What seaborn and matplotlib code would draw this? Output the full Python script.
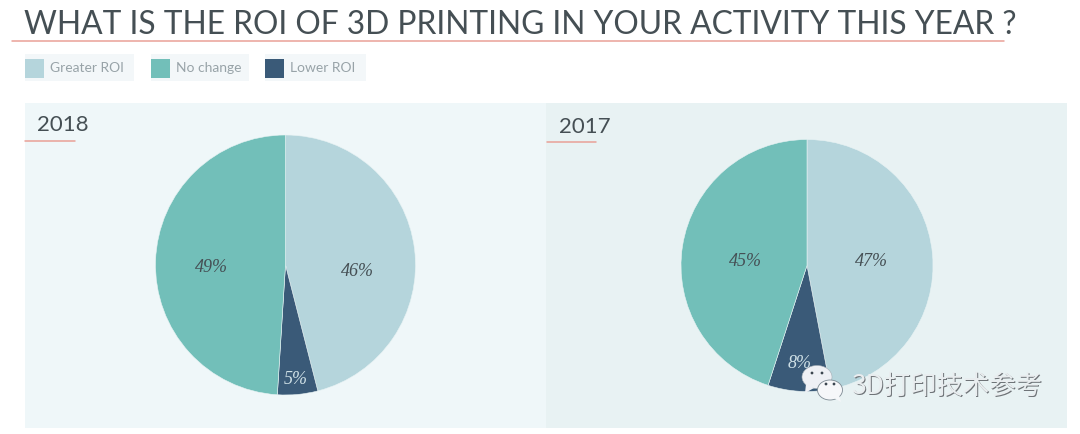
#!/usr/bin/env python3
"""ROI of 3D printing, 2018 vs 2017 pies."""

from __future__ import annotations

import matplotlib
matplotlib.use("Agg")
import matplotlib.pyplot as plt
from matplotlib.patches import Ellipse, Polygon, Rectangle
import seaborn as sns

W, H = 1080, 434

TITLE = "WHAT IS THE ROI OF 3D PRINTING IN YOUR ACTIVITY THIS YEAR ?"
WATERMARK = "3D打印技术参考"
CATEGORIES = ["Greater ROI", "Lower ROI", "No change"]
LEGEND_ORDER = ["Greater ROI", "No change", "Lower ROI"]
YEARS = ["2018", "2017"]
VALUES_2018 = [46, 5, 49]
VALUES_2017 = [47, 8, 45]

COLORS = dict(zip(CATEGORIES, sns.color_palette(["#b5d5dc", "#3a5a78", "#72bfb9"])))
TEXT = "#454f54"
RED = "#e9a097"


def axes_px(fig, x0, y0, x1, y1, **kw):
    # pixel box with y measured from the top of the image
    return fig.add_axes([x0 / W, 1 - y1 / H, (x1 - x0) / W, (y1 - y0) / H], **kw)


def draw_pie(fig, values, cx, cy, r, label_colors, label_spots):
    ax = axes_px(fig, cx - r, cy - r, cx + r, cy + r)
    ax.set_aspect("auto")
    ax.pie(
        values,
        colors=[COLORS[c] for c in CATEGORIES],
        startangle=90,
        counterclock=False,
        radius=1,
        wedgeprops={"linewidth": 0.4, "edgecolor": "#e8f3f4"},
    )
    ax.set_xlim(-1, 1)
    ax.set_ylim(-1, 1)
    for value, color, (lx, ly) in zip(values, label_colors, label_spots):
        ax.text(
            (lx - cx) / r, (cy - ly) / r, f"{value}%",
            family="Liberation Serif", style="italic", fontsize=13,
            color=color, ha="center", va="center",
        )


def wechat_icon(ax):
    ax.add_patch(Ellipse((817, 377), 30, 23, facecolor="#eef0f5", edgecolor="#a3adb5", linewidth=0.4, zorder=5))
    ax.add_patch(Polygon([(806, 384), (805, 393), (814, 388)], facecolor="#eef0f5", edgecolor="none", zorder=5))
    ax.add_patch(Ellipse((830, 390), 25, 20, facecolor="#f6f7f9", edgecolor="#7d8a93", linewidth=0.6, zorder=6))
    ax.add_patch(Polygon([(834, 398), (841, 402), (839, 395)], facecolor="#f6f7f9", edgecolor="none", zorder=6))
    for x, y, z in [(812, 373, 5), (822, 373, 5), (826, 384, 7), (834, 384, 7)]:
        ax.add_patch(Ellipse((x, y), 2.8, 2.8, facecolor="#3c4650", edgecolor="none", zorder=z))


def main() -> None:
    sns.set_theme(context="paper", style="white")
    plt.rcParams["font.family"] = ["Lato", "DejaVu Sans"]

    fig = plt.figure(figsize=(W / 100, H / 100), dpi=100, facecolor="white")

    # full-figure layer in image pixels for panels, rules, legend and titles
    bg = fig.add_axes([0, 0, 1, 1], zorder=0)
    bg.set_xlim(0, W)
    bg.set_ylim(H, 0)
    bg.axis("off")

    bg.add_patch(Rectangle((25, 103), 521, 325, facecolor="#eff7f9", edgecolor="none"))
    bg.add_patch(Rectangle((546, 103), 521, 325, facecolor="#e8f2f3", edgecolor="none"))

    bg.text(24, 25, TITLE, fontsize=22.85, color=TEXT, va="center", ha="left")
    bg.plot([12, 1004], [40.5, 40.5], color=RED, linewidth=1.1)

    # legend
    boxes = [(25, 134), (151, 249), (265, 366)]
    for name, (x0, x1) in zip(LEGEND_ORDER, boxes):
        bg.add_patch(Rectangle((x0, 54), x1 - x0, 27, facecolor="#f3f7f9", edgecolor="none"))
        bg.add_patch(Rectangle((x0, 59), 19, 19, facecolor=COLORS[name], edgecolor="none"))
        bg.text(x0 + 25, 68, name, fontsize=10, color="#98a3a8", va="center", ha="left")

    for year, tx, ty, rx0, rx1, ry in zip(YEARS, [37, 559], [125, 127], [25, 547], [75, 596], [140.5, 141.5]):
        bg.text(tx, ty, year, fontsize=16, color=TEXT, va="center", ha="left")
        bg.plot([rx0, rx1], [ry, ry], color=RED, linewidth=1.1)

    draw_pie(
        fig, VALUES_2018, 285.5, 265, 130,
        [TEXT, "#cfe0e6", TEXT],
        [(357, 272), (296, 379), (211, 268)],
    )
    draw_pie(
        fig, VALUES_2017, 807, 265.5, 126,
        [TEXT, "#cfe0e6", TEXT],
        [(871, 261), (800, 363), (745, 261)],
    )

    # watermark sits above the pies
    top = fig.add_axes([0, 0, 1, 1], zorder=5)
    top.set_xlim(0, W)
    top.set_ylim(H, 0)
    top.axis("off")
    top.patch.set_alpha(0)
    wechat_icon(top)
    for dx, dy, color in [(1, 1, "#6f7478"), (0, 0, "#e9edef")]:
        top.text(
            851 + dx, 386 + dy, WATERMARK, fontsize=19, color=color, va="center", ha="left",
            family=["Noto Sans CJK SC", "DejaVu Sans"], zorder=8,
        )

    fig.savefig("out.png", dpi=100, facecolor="white")
    plt.close(fig)


if __name__ == "__main__":
    main()
